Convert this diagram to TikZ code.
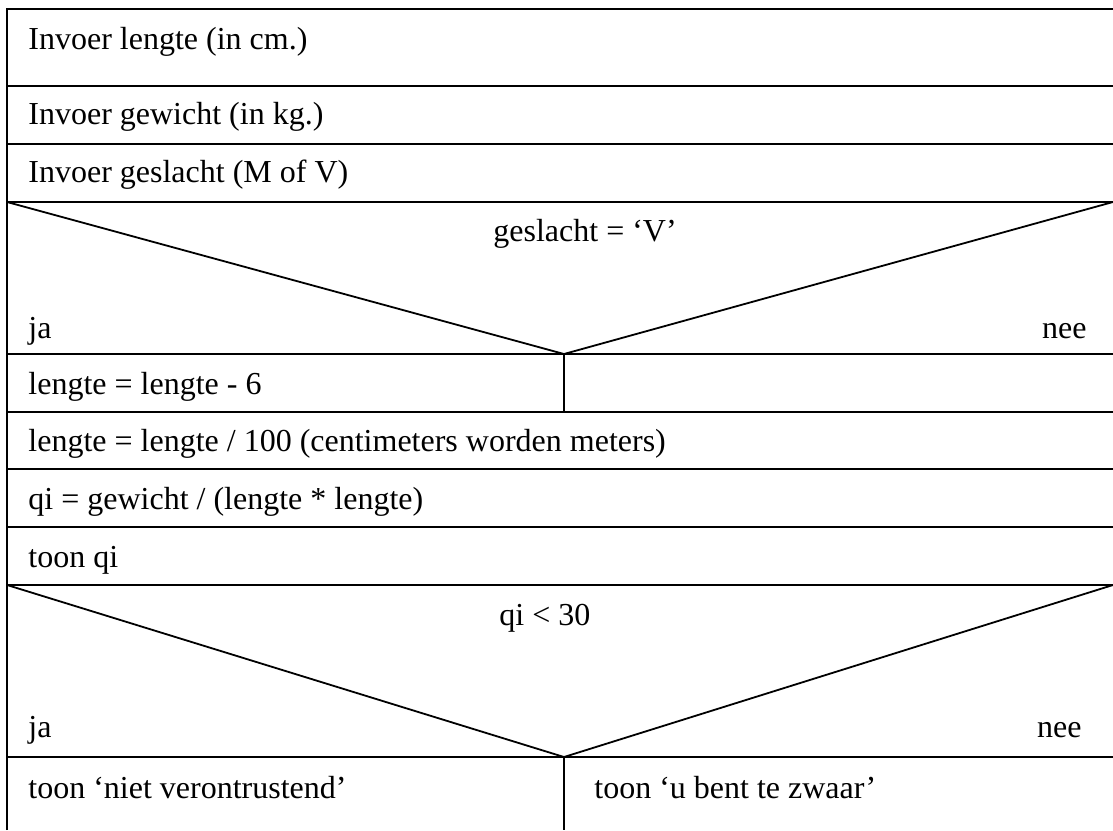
\documentclass[tikz,border=0pt]{standalone}
\usepackage{fontspec}
\setmainfont{Liberation Serif}
\begin{document}
\begin{tikzpicture}[x=0.5pt,y=-0.5pt,
  rule/.style={line width=1.2pt, black},
  thin rule/.style={line width=0.9pt, black},
  txt/.style={inner sep=0pt, anchor=base west, font=\fontsize{16}{18}\selectfont},
  txtr/.style={inner sep=0pt, anchor=base east, font=\fontsize{16}{18}\selectfont}]
\useasboundingbox (0,0) rectangle (1113,830);
% coordinates
\coordinate (tl) at (7,9);
\coordinate (tr) at (1113,9);
\coordinate (bl) at (7,830);
\foreach \y/\n in {86/a,144/b,202/c,354/d,412/e,469/f,527/g,585/h,757/i}{
  \coordinate (L\n) at (7,\y);
  \coordinate (R\n) at (1113,\y);
}
\coordinate (v1) at (564,354);
\coordinate (v1b) at (564,412);
\coordinate (v2) at (564,757);
\coordinate (v2b) at (564,830);
% frame
\draw[rule] (bl) -- (tl) -- (tr);
\foreach \n in {a,b,c,d,e,f,g,h,i}{ \draw[rule] (L\n) -- (R\n); }
% decisions
\draw[thin rule] (Lc) -- (v1) -- (Rc);
\draw[thin rule] (Lh) -- (v2) -- (Rh);
\draw[thin rule] (v1) -- (v1b);
\draw[thin rule] (v2) -- (v2b);
% texts
\node[txt] (t1) at (28,49) {Invoer lengte (in cm.)};
\node[txt] (t2) at (28,124) {Invoer gewicht (in kg.)};
\node[txt] (t3) at (28,182) {Invoer geslacht (M of V)};
\node[txt] (c1) at (493,241) {geslacht = ‘V’};
\node[txt] (ja1) at (28,338) {ja};
\node[txtr] (nee1) at (1087,338) {nee};
\node[txt] (t4) at (28,394) {lengte = lengte - 6};
\node[txt] (t5) at (28,451) {lengte = lengte / 100 (centimeters worden meters)};
\node[txt] (t6) at (28,509) {qi = gewicht / (lengte * lengte)};
\node[txt] (t7) at (28,567) {toon qi};
\node[txt] (c2) at (499,625) {qi < 30};
\node[txt] (ja2) at (28,737) {ja};
\node[txtr] (nee2) at (1082,737) {nee};
\node[txt] (t8) at (28,798) {toon ‘niet verontrustend’};
\node[txt] (t9) at (594,798) {toon ‘u bent te zwaar’};
\end{tikzpicture}
\end{document}
